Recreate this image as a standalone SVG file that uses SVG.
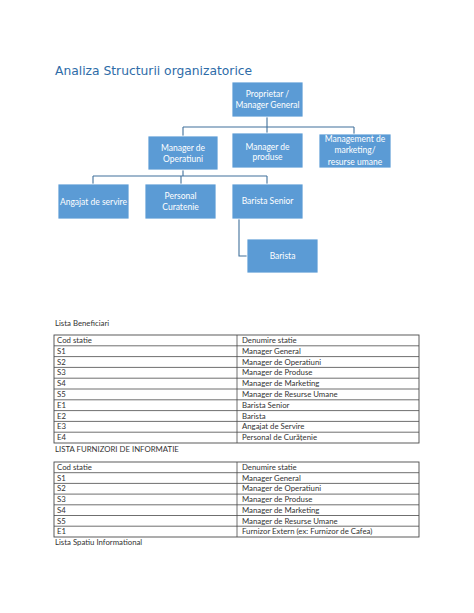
<svg xmlns="http://www.w3.org/2000/svg" width="474" height="613" viewBox="0 0 474 613">
<style>
.bg{fill:#ffffff}
.box{fill:#5b9bd5;stroke:#ffffff;stroke-width:0.8}
.nt{font-family:Lato,"Liberation Sans",sans-serif;font-size:8.5px;fill:#ffffff;text-anchor:middle}
.con{fill:none;stroke:#41719c;stroke-width:1.1}
.title{font-family:"DejaVu Sans",sans-serif;font-size:12.3px;fill:#2e6ca8}
.tb{fill:none;stroke:#4a4a4a;stroke-width:0.9}
.tl{stroke:#4a4a4a;stroke-width:0.8}
.tt{font-family:Lato,"Liberation Sans",sans-serif;font-size:7.8px;fill:#333333}
</style>
<rect class="bg" x="0" y="0" width="474" height="613"/>
<text class="title" x="55" y="75">Analiza Structurii organizatorice</text>

<g id="connectors">
<path class="con" d="M267,117 V127 M183,127 H354 M183,127 V136 M267,127 V133 M354,127 V134"/>
<path class="con" d="M183,170 V176 M93,176 H267 M93,176 V184 M181,176 V184 M267,176 V184"/>
<path class="con" d="M239,219 V256 H247"/>
</g>

<g id="node-proprietar">
<rect class="box" x="232" y="82" width="71" height="35"/>
<text class="nt" x="267.5" y="97">Proprietar /</text>
<text class="nt" x="267.5" y="108">Manager General</text>
</g>
<g id="node-manager-operatiuni">
<rect class="box" x="148" y="136" width="70" height="34"/>
<text class="nt" x="183" y="151">Manager de</text>
<text class="nt" x="183" y="162">Operatiuni</text>
</g>
<g id="node-manager-produse">
<rect class="box" x="232" y="133" width="71" height="35"/>
<text class="nt" x="267.5" y="150">Manager de</text>
<text class="nt" x="267.5" y="160">produse</text>
</g>
<g id="node-marketing">
<rect class="box" x="319" y="134" width="72" height="34"/>
<text class="nt" x="355" y="142">Management de</text>
<text class="nt" x="355" y="153">marketing/</text>
<text class="nt" x="355" y="165">resurse umane</text>
</g>
<g id="node-angajat">
<rect class="box" x="58" y="184" width="71" height="35"/>
<text class="nt" x="93.5" y="205">Angajat de servire</text>
</g>
<g id="node-personal">
<rect class="box" x="145" y="184" width="71" height="35"/>
<text class="nt" x="180.5" y="199">Personal</text>
<text class="nt" x="180.5" y="210">Curatenie</text>
</g>
<g id="node-barista-senior">
<rect class="box" x="232" y="184" width="71" height="35"/>
<text class="nt" x="267.5" y="204">Barista Senior</text>
</g>
<g id="node-barista">
<rect class="box" x="247" y="239" width="71" height="34"/>
<text class="nt" x="282.5" y="259">Barista</text>
</g>

<g id="table-beneficiari">
<text class="tt" x="55" y="326">Lista Beneficiari</text>
<rect class="tb" x="54" y="335" width="365" height="108"/>
<line class="tl" x1="237" y1="335" x2="237" y2="443"/>
<line class="tl" x1="54" y1="345.8" x2="419" y2="345.8"/>
<line class="tl" x1="54" y1="356.6" x2="419" y2="356.6"/>
<line class="tl" x1="54" y1="367.4" x2="419" y2="367.4"/>
<line class="tl" x1="54" y1="378.2" x2="419" y2="378.2"/>
<line class="tl" x1="54" y1="389" x2="419" y2="389"/>
<line class="tl" x1="54" y1="399.8" x2="419" y2="399.8"/>
<line class="tl" x1="54" y1="410.6" x2="419" y2="410.6"/>
<line class="tl" x1="54" y1="421.4" x2="419" y2="421.4"/>
<line class="tl" x1="54" y1="432.2" x2="419" y2="432.2"/>
<text class="tt" x="57" y="343">Cod statie</text><text class="tt" x="242" y="343">Denumire statie</text>
<text class="tt" x="57" y="353.8">S1</text><text class="tt" x="242" y="353.8">Manager General</text>
<text class="tt" x="57" y="364.6">S2</text><text class="tt" x="242" y="364.6">Manager de Operatiuni</text>
<text class="tt" x="57" y="375.4">S3</text><text class="tt" x="242" y="375.4">Manager de Produse</text>
<text class="tt" x="57" y="386.2">S4</text><text class="tt" x="242" y="386.2">Manager de Marketing</text>
<text class="tt" x="57" y="397">S5</text><text class="tt" x="242" y="397">Manager de Resurse Umane</text>
<text class="tt" x="57" y="407.8">E1</text><text class="tt" x="242" y="407.8">Barista Senior</text>
<text class="tt" x="57" y="418.6">E2</text><text class="tt" x="242" y="418.6">Barista</text>
<text class="tt" x="57" y="429.4">E3</text><text class="tt" x="242" y="429.4">Angajat de Servire</text>
<text class="tt" x="57" y="440.2">E4</text><text class="tt" x="242" y="440.2">Personal de Curățenie</text>
</g>

<g id="table-furnizori">
<text class="tt" x="55" y="452">LISTA FURNIZORI DE INFORMATIE</text>
<rect class="tb" x="54" y="462" width="365" height="75"/>
<line class="tl" x1="237" y1="462" x2="237" y2="537"/>
<line class="tl" x1="54" y1="472.7" x2="419" y2="472.7"/>
<line class="tl" x1="54" y1="483.4" x2="419" y2="483.4"/>
<line class="tl" x1="54" y1="494.1" x2="419" y2="494.1"/>
<line class="tl" x1="54" y1="504.8" x2="419" y2="504.8"/>
<line class="tl" x1="54" y1="515.5" x2="419" y2="515.5"/>
<line class="tl" x1="54" y1="526.2" x2="419" y2="526.2"/>
<text class="tt" x="57" y="470">Cod statie</text><text class="tt" x="242" y="470">Denumire statie</text>
<text class="tt" x="57" y="480.7">S1</text><text class="tt" x="242" y="480.7">Manager General</text>
<text class="tt" x="57" y="491.4">S2</text><text class="tt" x="242" y="491.4">Manager de Operatiuni</text>
<text class="tt" x="57" y="502.1">S3</text><text class="tt" x="242" y="502.1">Manager de Produse</text>
<text class="tt" x="57" y="512.8">S4</text><text class="tt" x="242" y="512.8">Manager de Marketing</text>
<text class="tt" x="57" y="523.5">S5</text><text class="tt" x="242" y="523.5">Manager de Resurse Umane</text>
<text class="tt" x="57" y="534.2">E1</text><text class="tt" x="242" y="534.2">Furnizor Extern (ex: Furnizor de Cafea)</text>
<text class="tt" x="55" y="545">Lista Spatiu Informational</text>
</g>
</svg>
